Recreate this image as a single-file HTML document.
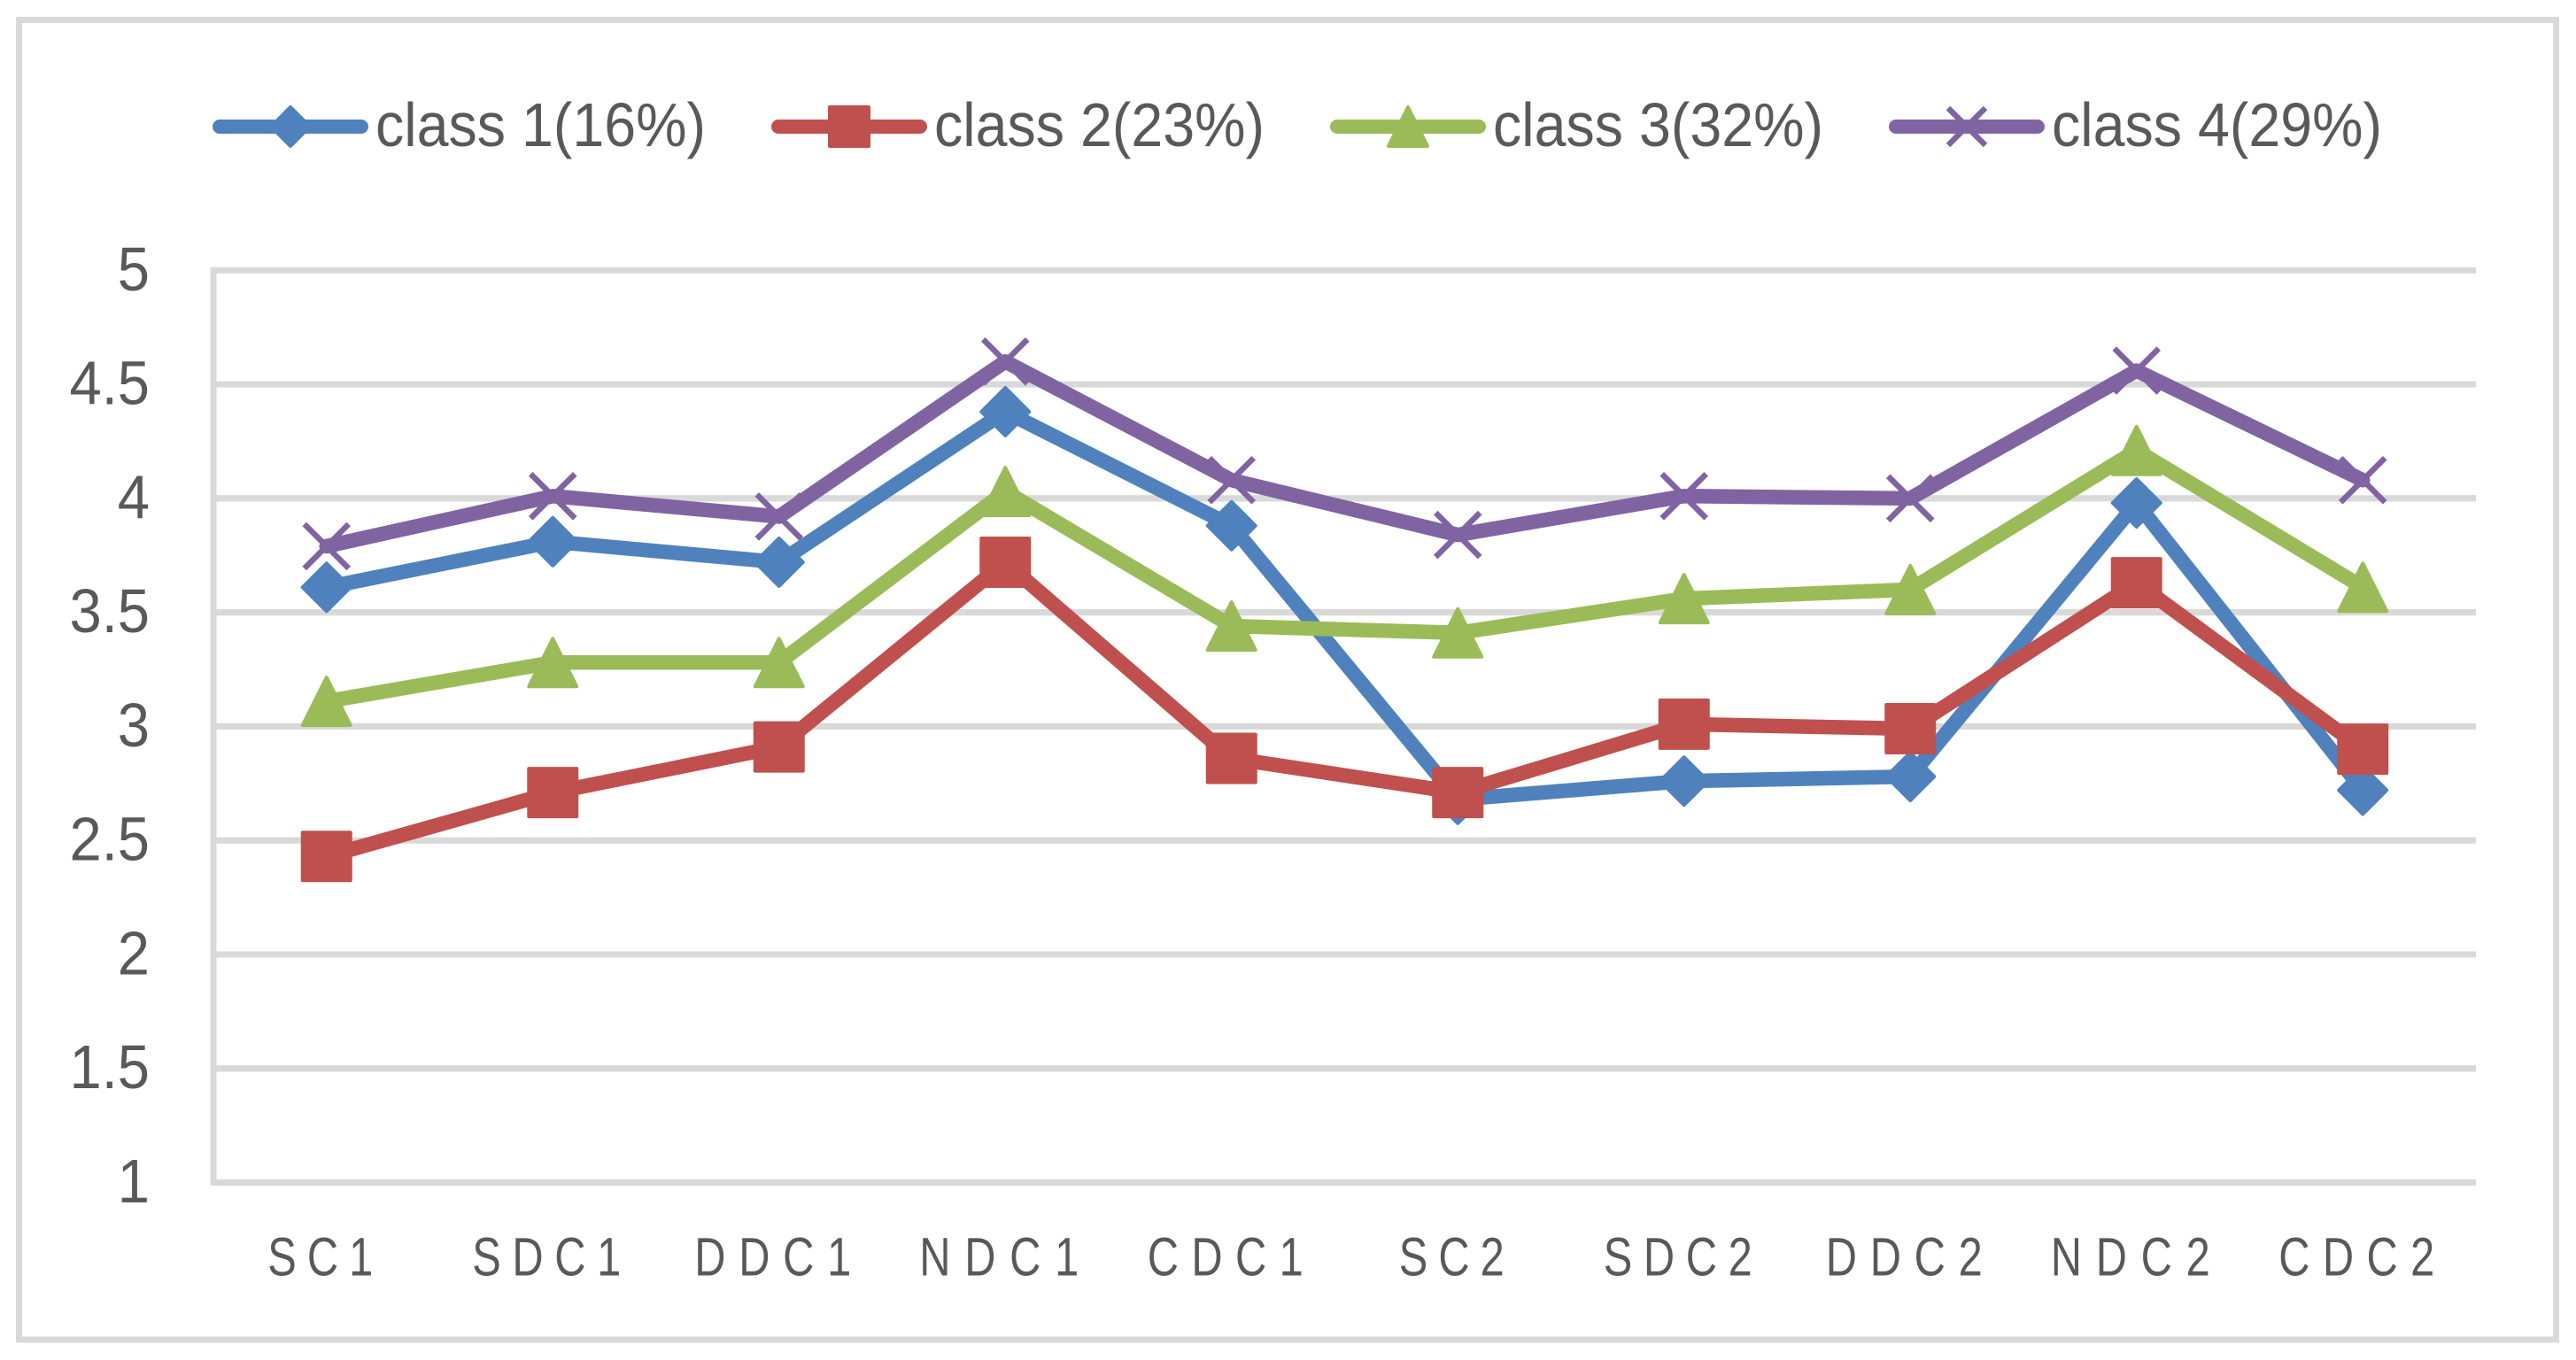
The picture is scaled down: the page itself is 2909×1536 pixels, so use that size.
<!DOCTYPE html>
<html>
<head>
<meta charset="utf-8">
<title>Class profile line chart</title>
<style>
html,body{margin:0;padding:0;background:#fff;}
svg{display:block;}
text{font-family:"Liberation Sans",sans-serif;fill:#595959;}
</style>
</head>
<body>
<svg id="chart" xmlns="http://www.w3.org/2000/svg" width="2909" height="1536" viewBox="0 0 2909 1536">
<rect x="0" y="0" width="2909" height="1536" fill="#ffffff"/>
<rect x="21.5" y="22.5" width="2865" height="1490.5" fill="none" stroke="#d9d9d9" stroke-width="7"/>
<g id="grid"></g>
<g id="yaxis"></g>
<g id="xaxis"></g>
<g id="series"></g>
<g id="legend"></g>
</svg>
<script>
const categories = ["SC1","SDC1","DDC1","NDC1","CDC1","SC2","SDC2","DDC2","NDC2","CDC2"];
const categoryLabelWidths = [119,168,177,180,176,119,168,177,180,176];
const yTicks = [1,1.5,2,2.5,3,3.5,4,4.5,5];
const yTickLabels = ["1","1.5","2","2.5","3","3.5","4","4.5","5"];
const seriesNames = ["class 1(16%)","class 2(23%)","class 3(32%)","class 4(29%)"];
const class1Values = [3.61,3.81,3.72,4.38,3.88,2.68,2.76,2.78,3.98,2.72];
const class2Values = [2.43,2.71,2.91,3.72,2.86,2.71,3.01,2.99,3.63,2.90];
const class3Values = [3.11,3.28,3.28,4.03,3.44,3.41,3.56,3.60,4.21,3.61];
const class4Values = [3.79,4.01,3.92,4.60,4.08,3.84,4.01,4.00,4.56,4.08];
const allSeries = [class1Values,class2Values,class3Values,class4Values];
const seriesColors = ["#4f81bd","#c0504d","#9bbb59","#8064a2"];
const markerKinds = ["diamond","square","triangle","cross"];

const NS = "http://www.w3.org/2000/svg";
const plotLeft = 241, plotRight = 2796, plotTop = 305.3, plotBottom = 1335.5;
const yMin = 1, yMax = 5;
function xScale(i){ return plotLeft + (i + 0.5) * (plotRight - plotLeft) / categories.length; }
function yScale(v){ return plotBottom - (v - yMin) / (yMax - yMin) * (plotBottom - plotTop); }
function make(tag, attrs, parent){
  const el = document.createElementNS(NS, tag);
  for (const k in attrs) el.setAttribute(k, attrs[k]);
  parent.appendChild(el);
  return el;
}
function drawMarker(kind, cx, cy, size, color, parent){
  const h = size / 2;
  let el;
  if (kind === "diamond") {
    const r = h - 2;
    el = make("polygon", {points:`${cx},${cy-r} ${cx+r},${cy} ${cx},${cy+r} ${cx-r},${cy}`, fill:color, stroke:color, "stroke-width":4, "stroke-linejoin":"round"}, parent);
  } else if (kind === "square") {
    const r = h - 2;
    el = make("rect", {x:cx-r, y:cy-r, width:2*r, height:2*r, fill:color, stroke:color, "stroke-width":4, "stroke-linejoin":"round"}, parent);
  } else if (kind === "triangle") {
    const r = h - 2;
    el = make("polygon", {points:`${cx},${cy-r} ${cx+r},${cy+r} ${cx-r},${cy+r}`, fill:color, stroke:color, "stroke-width":4, "stroke-linejoin":"round"}, parent);
  } else {
    const r = h - 3;
    el = make("path", {d:`M${cx-r} ${cy-r}L${cx+r} ${cy+r}M${cx-r} ${cy+r}L${cx+r} ${cy-r}`, fill:"none", stroke:color, "stroke-width":6.5}, parent);
  }
  return el;
}

const gridG = document.getElementById("grid");
const yG = document.getElementById("yaxis");
yTicks.forEach(function(t, i){
  const y = yScale(t);
  const line = make("line", {x1:plotLeft-3, x2:plotRight, y1:y, y2:y, stroke:"#d9d9d9", "stroke-width":7.2}, gridG);
  
  
  const lab = make("text", {x:0, y:0, "text-anchor":"end", "font-size":70, transform:`translate(169,${y+22.5}) scale(0.93,1)`}, yG);
  lab.textContent = yTickLabels[i];
  
  
});
const axisLine = make("line", {x1:plotLeft, x2:plotLeft, y1:plotTop-3.5, y2:plotBottom+3.5, stroke:"#d9d9d9", "stroke-width":7}, yG);



const xG = document.getElementById("xaxis");
categories.forEach(function(c, i){
  const sx = 0.8;
  const lab = make("text", {x:0, y:0, "text-anchor":"middle", "font-size":61, textLength:categoryLabelWidths[i]/sx, lengthAdjust:"spacing", transform:`translate(${xScale(i)-7},1440.5) scale(${sx},1)`}, xG);
  lab.textContent = c;
  
  
});

const seriesG = document.getElementById("series");
allSeries.forEach(function(vals, s){
  const g = make("g", {}, seriesG);
  
  
  const pts = vals.map(function(v, i){ return xScale(i) + "," + yScale(v); }).join(" ");
  const pl = make("polyline", {points:pts, fill:"none", stroke:seriesColors[s], "stroke-width":16.5, "stroke-linejoin":"round", "stroke-linecap":"round"}, g);
  
  
  vals.forEach(function(v, i){
    const m = drawMarker(markerKinds[s], xScale(i), yScale(v), s === 3 ? 56 : 58, seriesColors[s], g);
    
    
  });
});

const legendG = document.getElementById("legend");
seriesNames.forEach(function(name, s){
  const x0 = 248 + s * 631;
  const g = make("g", {}, legendG);
  
  
  const ln = make("line", {x1:x0, x2:x0+160, y1:143, y2:143, stroke:seriesColors[s], "stroke-width":16, "stroke-linecap":"round"}, g);
  
  
  const mk = drawMarker(markerKinds[s], x0+80, 143, 48, seriesColors[s], g);
  
  
  const tx = make("text", {x:x0+176, y:165, "font-size":70, textLength:373, lengthAdjust:"spacingAndGlyphs"}, g);
  tx.textContent = name;
  
  
});
</script>
</body>
</html>
